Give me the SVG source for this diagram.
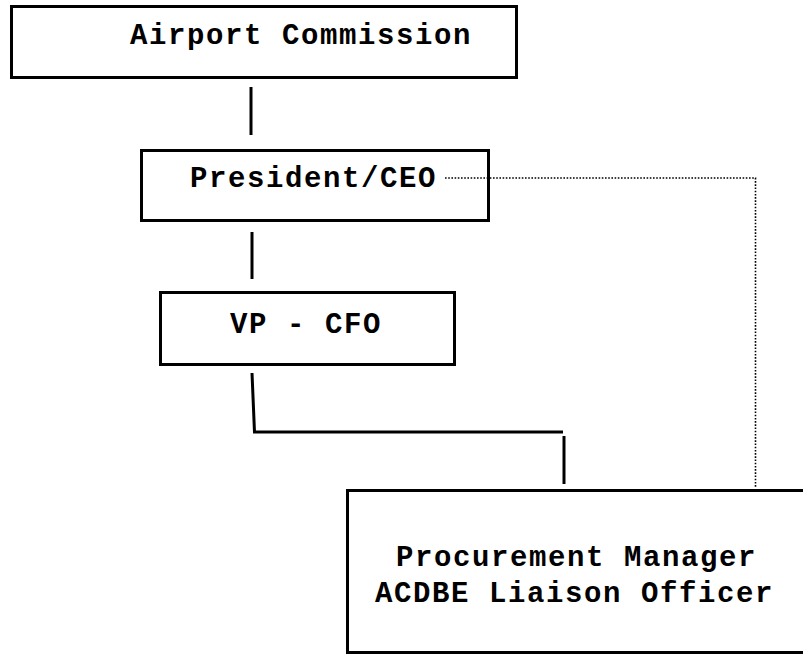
<svg xmlns="http://www.w3.org/2000/svg" width="803" height="655" viewBox="0 0 803 655">
<style>
.box{fill:#fff;stroke:#000;stroke-width:3}
.lbl{font-family:"Liberation Mono","Courier New",monospace;font-weight:bold;font-size:29px;letter-spacing:1.6px;fill:#000}
.solid{fill:none;stroke:#000;stroke-width:3}
.dot{fill:none;stroke:#000;stroke-width:1.6;stroke-dasharray:1.6 1.6}
</style>
<rect width="803" height="655" fill="#fff"/>
<g id="airport-commission">
<rect class="box" x="11.5" y="6.5" width="505" height="71"/>
<text class="lbl" x="130" y="44">Airport Commission</text>
</g>
<g id="president-ceo">
<rect class="box" x="141.5" y="150.5" width="347" height="70"/>
<text class="lbl" x="190" y="187">President/CEO</text>
</g>
<g id="vp-cfo">
<rect class="box" x="160.5" y="292.5" width="294" height="72"/>
<text class="lbl" x="230" y="333">VP - CFO</text>
</g>
<g id="procurement-manager">
<rect class="box" x="347.5" y="490.5" width="470" height="162"/>
<text class="lbl" x="396" y="566">Procurement Manager</text>
<text class="lbl" x="375" y="602">ACDBE Liaison Officer</text>
</g>
<g id="connectors">
<line class="solid" x1="251" y1="87" x2="251" y2="135"/>
<line class="solid" x1="252" y1="232" x2="252" y2="279"/>
<polyline class="solid" points="252,373 254.5,432 563,432"/>
<line class="solid" x1="564" y1="436" x2="564" y2="484"/>
<polyline class="dot" points="445,178 755.5,178 755.5,488"/>
</g>
</svg>
